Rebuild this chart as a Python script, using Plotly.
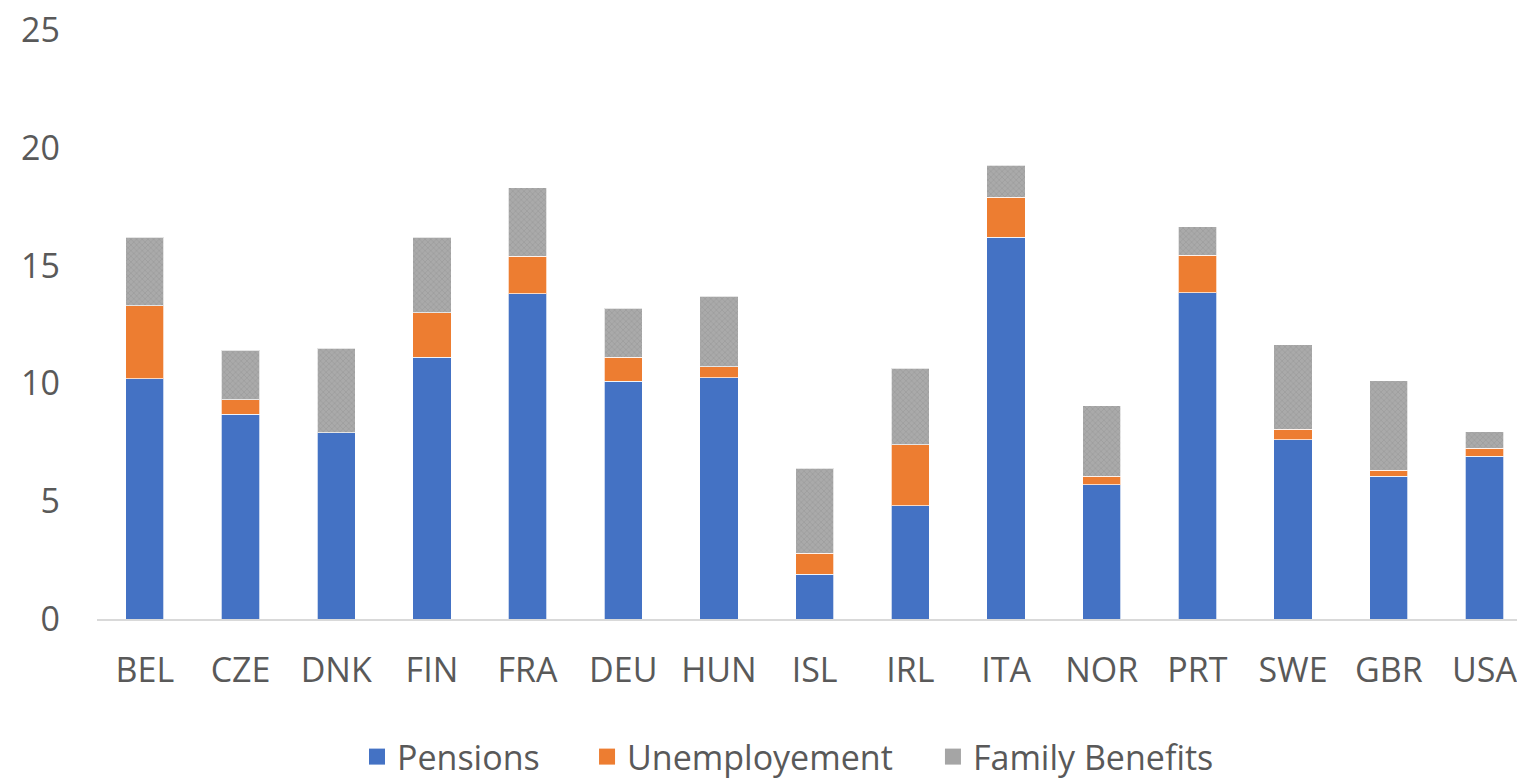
import plotly.graph_objects as go

countries = ["BEL", "CZE", "DNK", "FIN", "FRA", "DEU", "HUN", "ISL", "IRL", "ITA", "NOR", "PRT", "SWE", "GBR", "USA"]
pensions = [10.2, 8.7, 7.9, 11.1, 13.8, 10.1, 10.25, 1.9, 4.8, 16.2, 5.7, 13.85, 7.6, 6.05, 6.9]
unemployment = [3.1, 0.6, 0.0, 1.9, 1.6, 1.0, 0.45, 0.9, 2.6, 1.7, 0.35, 1.6, 0.45, 0.27, 0.35]
family = [2.9, 2.1, 3.6, 3.2, 2.9, 2.1, 3.0, 3.6, 3.25, 1.35, 3.0, 1.2, 3.6, 3.8, 0.7]
y_ticks = [0, 5, 10, 15, 20, 25]
series_names = ["Pensions", "Unemployement", "Family Benefits"]
series_colors = ["#4472C4", "#ED7D31", "#A5A5A5"]

FONT = "Open Sans"
TXT = "#595959"
FS = 34
edge = dict(color="rgba(255,255,255,0.7)", width=1)
legend_ids = ["legend", "legend2", "legend3"]
legend_x = [0.1831, 0.3451, 0.5887]

fig = go.Figure()
fig.add_trace(go.Bar(name=series_names[0], x=countries, y=pensions, showlegend=False,
                     marker=dict(color=series_colors[0], line=edge)))
fig.add_trace(go.Bar(name=series_names[1], x=countries, y=unemployment, showlegend=False,
                     marker=dict(color=series_colors[1], line=edge)))
fig.add_trace(go.Bar(name=series_names[2], x=countries, y=family, showlegend=False,
                     marker=dict(color=series_colors[2], line=edge,
                                 pattern=dict(shape="x", size=4, solidity=0.3,
                                              fgcolor="#8a8a8a", bgcolor="#aaaaaa"))))
# legend entries with square swatches, one legend per entry for exact spacing
for nm, col, lid in zip(series_names, series_colors, legend_ids):
    fig.add_trace(go.Scatter(name=nm, x=[countries[0]], y=[None], mode="markers",
                             marker=dict(symbol="square", size=20, color=col),
                             showlegend=True, legend=lid, hoverinfo="skip"))

legend_common = dict(orientation="h", xanchor="left", y=-0.2343, yanchor="middle",
                     font=dict(size=FS, color=TXT), itemwidth=30,
                     bgcolor="rgba(0,0,0,0)", borderwidth=0)

fig.update_layout(
    barmode="stack",
    bargap=0.6,
    width=1517, height=780,
    margin=dict(l=97, r=0, t=30, b=161, autoexpand=False),
    paper_bgcolor="white", plot_bgcolor="white",
    font=dict(family=FONT, size=FS, color=TXT),
    showlegend=True,
    legend=dict(x=legend_x[0], **legend_common),
    legend2=dict(x=legend_x[1], **legend_common),
    legend3=dict(x=legend_x[2], **legend_common),
    xaxis=dict(range=[-0.5, 14.34], showline=True, linecolor="#d9d9d9", linewidth=2,
               showgrid=False, ticks="", tickfont=dict(size=FS, color=TXT),
               ticklabelstandoff=20, tickangle=0, automargin=False, fixedrange=True),
    yaxis=dict(range=[0, 25], tickvals=y_ticks, showgrid=False, zeroline=False,
               showline=False, ticks="", tickfont=dict(size=FS, color=TXT),
               ticklabelstandoff=36, automargin=False, fixedrange=True),
)

fig.write_html("out.html", config={"displayModeBar": False},
               post_script="document.body.style.margin='0';document.body.style.overflow='hidden';")
